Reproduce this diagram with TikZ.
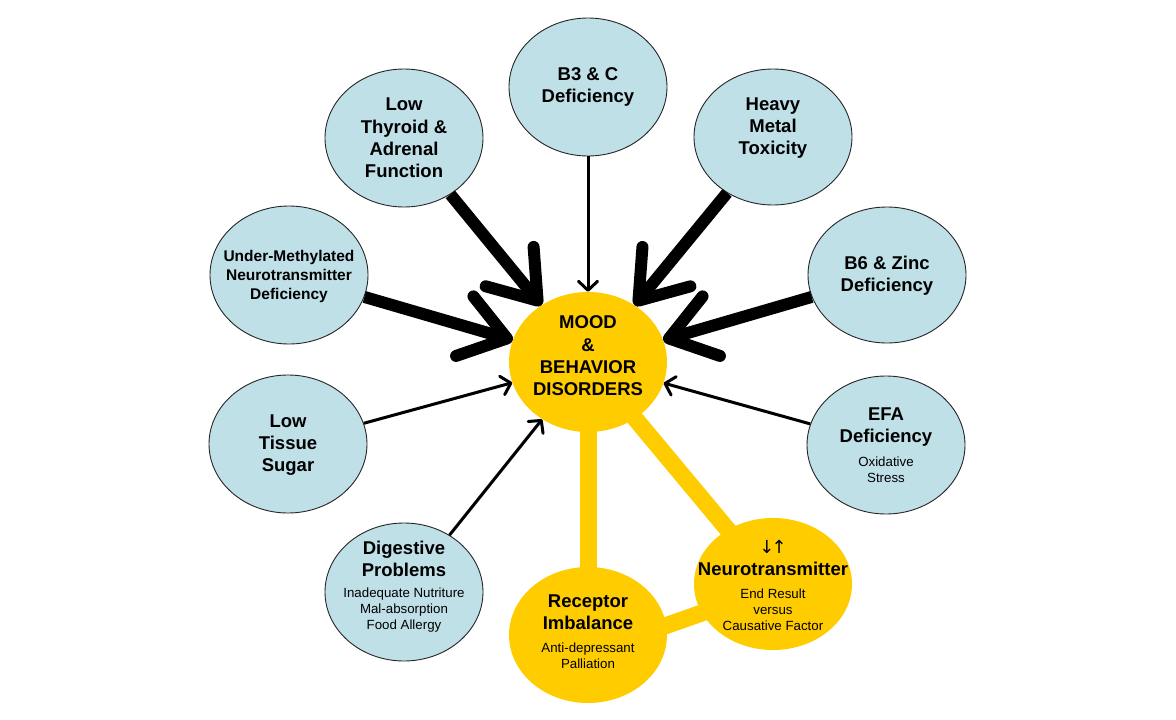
\documentclass[tikz,border=0pt]{standalone}
\usepackage{fontspec}
\setmainfont{Liberation Sans}
\newfontfamily\arrowfont{DejaVu Sans}
\usetikzlibrary{arrows.meta,shapes.geometric}
\definecolor{lblue}{HTML}{C0E0E8}
\definecolor{gold}{HTML}{FFCC00}
\pgfdeclarelayer{bg}
\pgfsetlayers{bg,main}
\begin{document}
\begin{tikzpicture}[x=1pt,y=-1pt,
 cause/.style={ellipse,draw=black!85,line width=0.9pt,fill=lblue,minimum width=158pt,minimum height=138pt,inner sep=0pt},
 core/.style={ellipse,fill=gold,minimum width=158pt,minimum height=138pt,inner sep=0pt},
 big/.style={font=\bfseries\fontsize{18.5}{22.3}\selectfont,align=center,inner sep=0pt},
 mid/.style={font=\bfseries\fontsize{15.5}{19}\selectfont,align=center,inner sep=0pt},
 small/.style={font=\fontsize{13.3}{16}\selectfont,align=center,inner sep=0pt},
 heavy/.style={line width=12pt,-{Straight Barb[length=44pt,width=62pt,round]}},
 light/.style={line width=3pt,-{Straight Barb[length=9pt,width=19pt,round]}},
 link/.style={gold,line width=17pt}]

\begin{pgfonlayer}{bg}
\fill[white] (0,0) rectangle (1176,720);
\end{pgfonlayer}
\useasboundingbox (0,0) rectangle (1176,720);

% core nodes
\node[core,minimum height=140pt] (mood) at (588,362) {};
\node[core,minimum height=136pt] (recep) at (588,635) {};
\node[core,minimum height=132pt] (neuro) at (773,584) {};

% cause nodes
\node[cause] (b3c) at (588,87) {};
\node[cause] (thy) at (404,138) {};
\node[cause,minimum height=136pt] (metal) at (773,137) {};
\node[cause,minimum height=136pt] (b6) at (887,275) {};
\node[cause] (under) at (289,275) {};
\node[cause] (efa) at (886,445) {};
\node[cause] (sugar) at (288,444) {};
\node[cause] (dig) at (404,592) {};

% yellow links
\begin{pgfonlayer}{bg}
\draw[link] (mood.center) -- (recep.center);
\draw[link] (mood.center) -- (neuro.center);
\draw[link] ([yshift=-18pt]recep.center) -- ([yshift=-4pt]neuro.center);
\end{pgfonlayer}

% texts
\node[big] (tmood) at (588,356) {MOOD\\\&\\BEHAVIOR\\DISORDERS};
\node[big] (trecep) at (588,612) {Receptor\\Imbalance};
\node[small] (srecep) at (588,656) {Anti-depressant\\Palliation};
\node[big] (tneuro) at (773,558) {{\arrowfont\mdseries\fontsize{18}{22}\selectfont ↓\kern-3pt↑}\\Neurotransmitter};
\node[small] (sneuro) at (773,610) {End Result\\versus\\Causative Factor};

\node[big] (tb3c) at (588,87) {B3 \& C\\Deficiency};
\node[big] (tthy) at (404,138) {Low\\Thyroid \&\\Adrenal\\Function};
\node[big] (tmetal) at (773,128) {Heavy\\Metal\\Toxicity};
\node[big] (tb6) at (887,276) {B6 \& Zinc\\Deficiency};
\node[mid] (tunder) at (289,276) {Under-Methylated\\Neurotransmitter\\Deficiency};
\node[big] (tefa) at (886,427) {EFA\\Deficiency};
\node[small] (sefa) at (886,470) {Oxidative\\Stress};
\node[big] (tsugar) at (288,445) {Low\\Tissue\\Sugar};
\node[big] (tdig) at (404,559) {Digestive\\Problems};
\node[small] (sdig) at (404,610) {Inadequate Nutriture\\Mal-absorption\\Food Allergy};

% arrows
\draw[light] (b3c) -- (mood);
\draw[heavy] (thy) -- (mood);
\draw[heavy] (metal) -- (mood);
\draw[heavy] (under) -- (mood);
\draw[heavy] (b6) -- (mood);
\draw[light] (sugar) -- (mood);
\draw[light] (dig) -- (mood);
\draw[light] (efa) -- (mood);
\end{tikzpicture}
\end{document}
